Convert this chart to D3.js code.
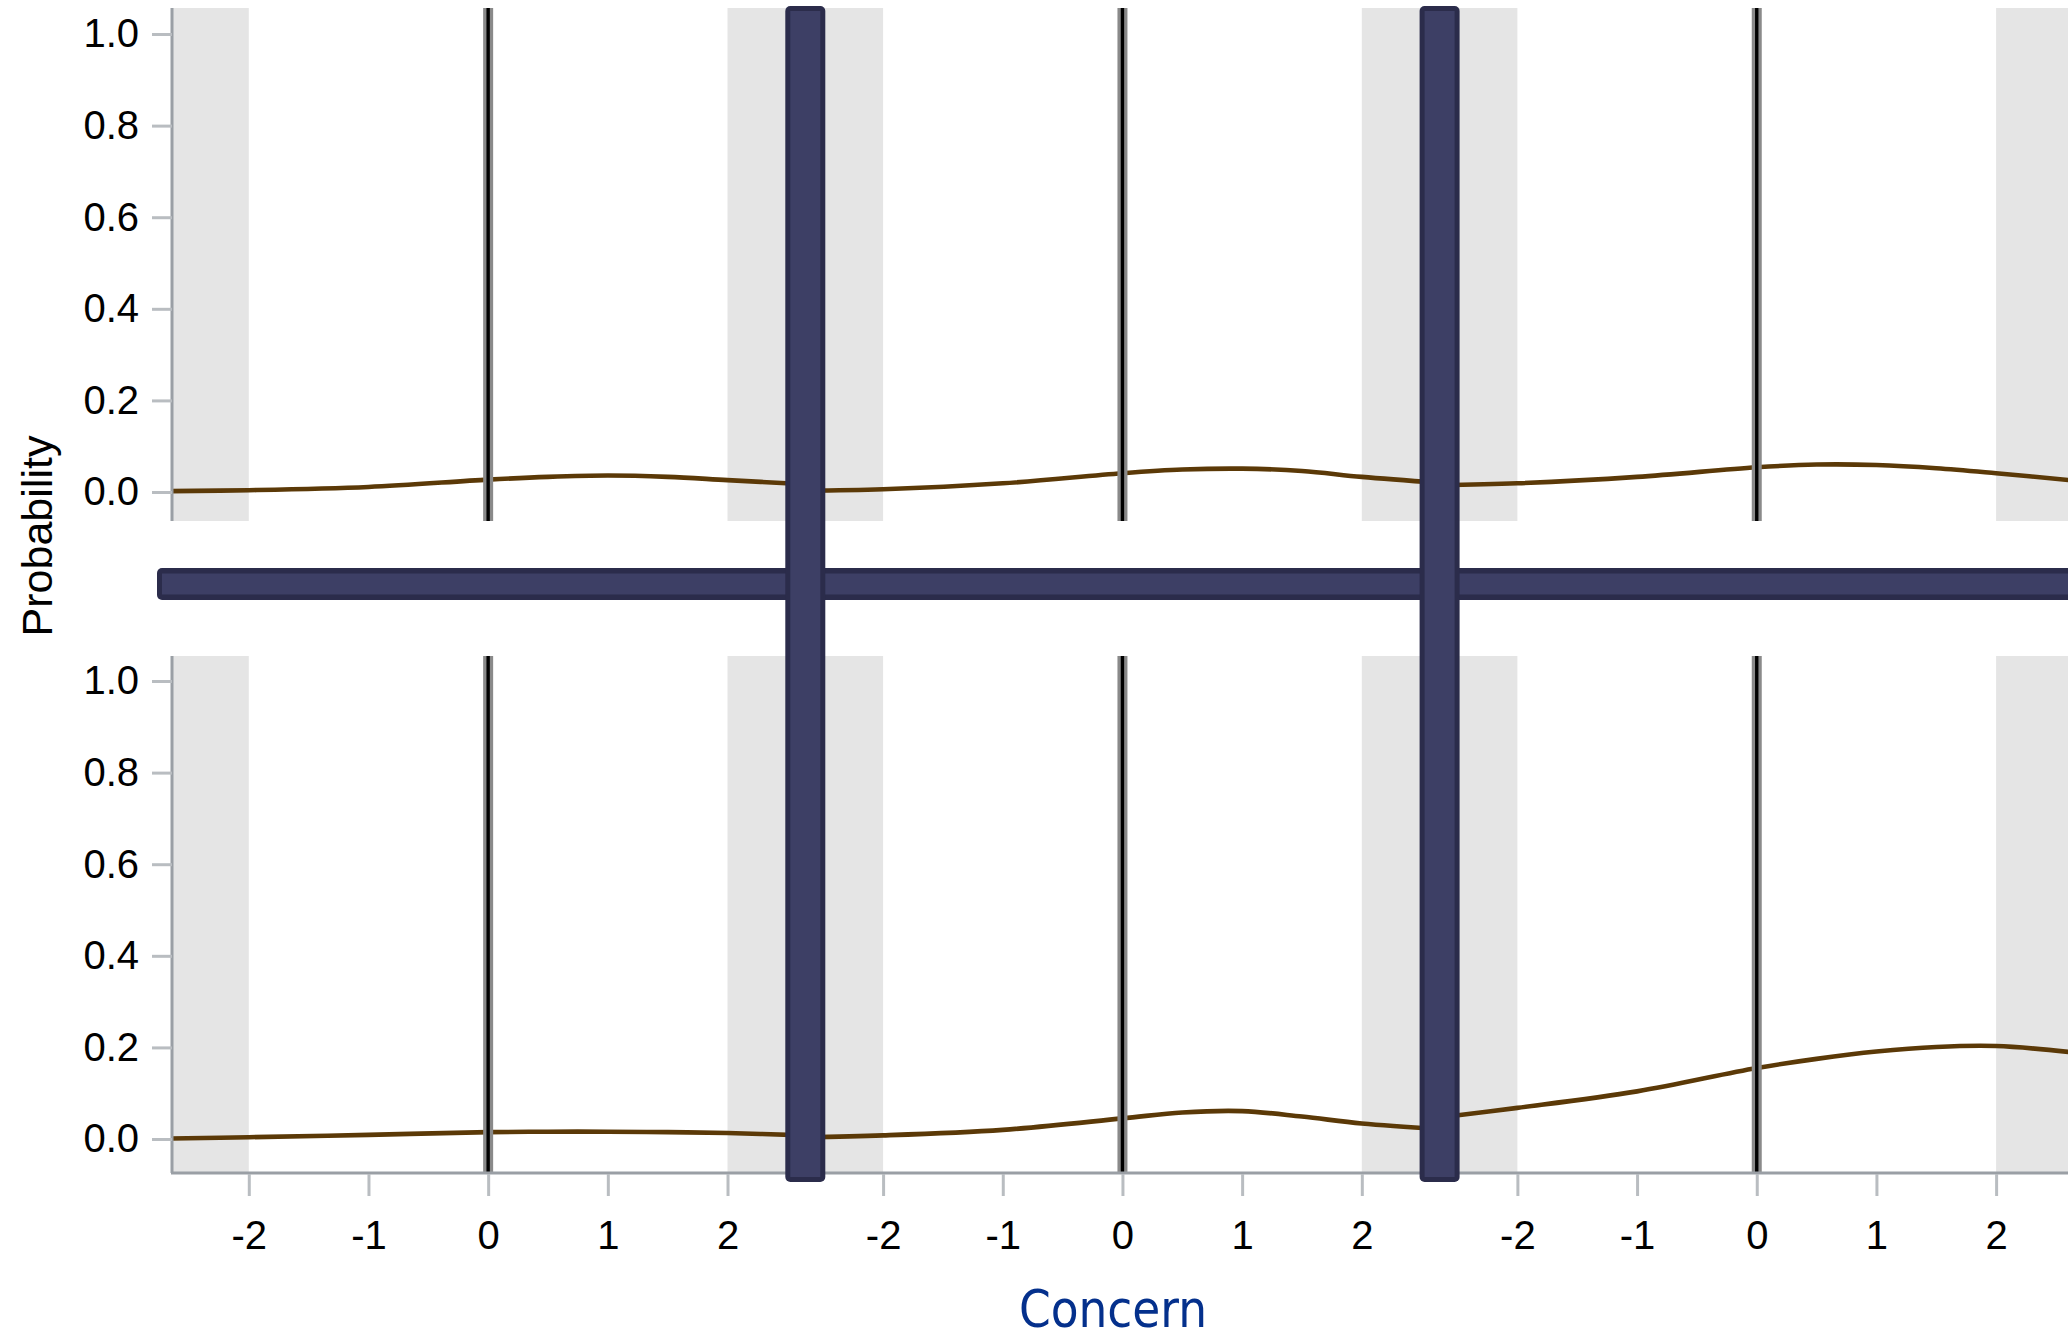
<!DOCTYPE html>
<html><head><meta charset="utf-8">
<script src="https://cdn.jsdelivr.net/npm/d3@7"></script>
<style>html,body{margin:0;padding:0;background:#fff;overflow:hidden}</style>
</head><body><svg id="c" width="2068" height="1340"></svg>
<script>
// ---- data ----
const concern = [-2.65, -2, -1, 0, 0.5, 1, 1.5, 2, 2.65];
const probTop1 = [0.002, 0.004, 0.011, 0.027, 0.033, 0.036, 0.033, 0.026, 0.017];
const probTop2 = [0.003, 0.006, 0.019, 0.041, 0.049, 0.051, 0.046, 0.033, 0.020];
const probTop3 = [0.015, 0.019, 0.033, 0.054, 0.060, 0.059, 0.052, 0.041, 0.025];
const probBot1 = [0.001, 0.004, 0.009, 0.015, 0.016, 0.016, 0.015, 0.013, 0.008];
const probBot2 = [0.004, 0.008, 0.020, 0.045, 0.058, 0.061, 0.049, 0.034, 0.022];
const probBot3 = [0.047, 0.068, 0.104, 0.155, 0.175, 0.191, 0.201, 0.203, 0.189];
const rows = [[probTop1, probTop2, probTop3], [probBot1, probBot2, probBot3]];
const xTickValues = [-2, -1, 0, 1, 2];
const xTickLabels = ["-2", "-1", "0", "1", "2"];
const yTickValues = [0, 0.2, 0.4, 0.6, 0.8, 1.0];
const yTickLabels = ["0.0", "0.2", "0.4", "0.6", "0.8", "1.0"];
const xTitle = "Concern";
const yTitle = "Probability";

// ---- layout ----
const svg = d3.select("#c");
const left = 171, period = 634.3, xDom = [-2.65, 2.65];
const rowBox = [{top: 8, bottom: 521, dom: [-0.0633, 1.0568]},
                {top: 656, bottom: 1173, dom: [-0.0742, 1.0546]}];
const xs = [0, 1, 2].map(p => d3.scaleLinear().domain(xDom).range([left + p * period, left + (p + 1) * period]));
const ys = rowBox.map(r => d3.scaleLinear().domain(r.dom).range([r.bottom, r.top]));
const tickFont = "'Liberation Sans', Arial, sans-serif";

svg.append("rect").attr("width", 2068).attr("height", 1340).attr("fill", "#fff");

const defs = svg.append("defs");
rowBox.forEach((r, ri) => {
  xs.forEach((x, p) => {
    defs.append("clipPath").attr("id", `clip${ri}${p}`).append("rect")
      .attr("x", x.range()[0]).attr("y", r.top)
      .attr("width", x.range()[1] - x.range()[0]).attr("height", r.bottom - r.top);
  });
});

const line = d3.line().curve(d3.curveCatmullRom.alpha(0.5));

rowBox.forEach((r, ri) => {
  const y = ys[ri];
  xs.forEach((x, p) => {
    const g = svg.append("g").attr("clip-path", `url(#clip${ri}${p})`);
    // shaded end bands
    [[xDom[0], -2], [2, xDom[1]]].forEach(([a, b]) => {
      g.append("rect").attr("x", x(a)).attr("y", r.top)
        .attr("width", x(b) - x(a)).attr("height", r.bottom - r.top)
        .attr("fill", "#e5e5e5");
    });
    // curve
    const pts = concern.map((c, i) => [x(c), y(rows[ri][p][i])]);
    g.append("path").attr("d", line(pts)).attr("fill", "none")
      .attr("stroke", "#5b3907").attr("stroke-width", 4.6);
    // zero reference line
    g.append("line").attr("x1", x(0)).attr("x2", x(0)).attr("y1", r.top).attr("y2", r.bottom)
      .attr("stroke", "#8a8a8a").attr("stroke-width", 10);
    g.append("line").attr("x1", x(0)).attr("x2", x(0)).attr("y1", r.top).attr("y2", r.bottom)
      .attr("stroke", "#000").attr("stroke-width", 3.4);
  });

  // y axis
  const ax = svg.append("g").attr("transform", `translate(${left + 1},0)`)
    .call(d3.axisLeft(y).tickValues(yTickValues).tickFormat((d, i) => yTickLabels[i])
      .tickSize(20).tickSizeOuter(0).tickPadding(13));
  ax.select(".domain").attr("stroke", "#9a9fa5").attr("stroke-width", 3)
    .attr("d", `M0,${r.top}V${r.bottom}`);
  ax.selectAll(".tick line").attr("stroke", "#b9bdc1").attr("stroke-width", 3);
  ax.selectAll(".tick text").attr("fill", "#000").style("font-family", tickFont)
    .style("font-size", "40px");
});

// bottom x axes
svg.append("line").attr("x1", left).attr("x2", 2068).attr("y1", 1173).attr("y2", 1173)
  .attr("stroke", "#9a9fa5").attr("stroke-width", 3);
xs.forEach(x => {
  const ax = svg.append("g").attr("transform", "translate(0,1174)")
    .call(d3.axisBottom(x).tickValues(xTickValues).tickFormat((d, i) => xTickLabels[i])
      .tickSize(22).tickSizeOuter(0).tickPadding(25));
  ax.select(".domain").remove();
  ax.selectAll(".tick line").attr("stroke", "#b9bdc1").attr("stroke-width", 3);
  ax.selectAll(".tick text").attr("fill", "#000").style("font-family", tickFont)
    .style("font-size", "40px");
});

// horizontal panel separator
svg.append("rect").attr("x", 157).attr("y", 568).attr("width", 2000).attr("height", 32)
  .attr("rx", 5).attr("fill", "#2b2c4b");
svg.append("rect").attr("x", 162).attr("y", 573.5).attr("width", 2000).attr("height", 21)
  .attr("fill", "#3d3f65");

// vertical panel separators
[1, 2].forEach(p => {
  const cx = xs[p].range()[0];
  svg.append("rect").attr("x", cx - 20).attr("y", 6).attr("width", 40).attr("height", 1176)
    .attr("rx", 5).attr("fill", "#2b2c4b");
  svg.append("rect").attr("x", cx - 15).attr("y", 11).attr("width", 30).attr("height", 1166)
    .attr("fill", "#3d3f65");
});

// titles
svg.append("text").attr("transform", "translate(1113,1327) scale(0.875,1)").attr("text-anchor", "middle")
  .attr("fill", "#04308c").style("font-family", "'DejaVu Sans', Verdana, sans-serif")
  .style("font-size", "52px")
  .text(xTitle);
svg.append("text").attr("transform", "translate(52,536) rotate(-90)").attr("text-anchor", "middle")
  .attr("fill", "#000").style("font-family", tickFont)
  .style("font-size", "43px")
  .text(yTitle);
</script></body></html>
